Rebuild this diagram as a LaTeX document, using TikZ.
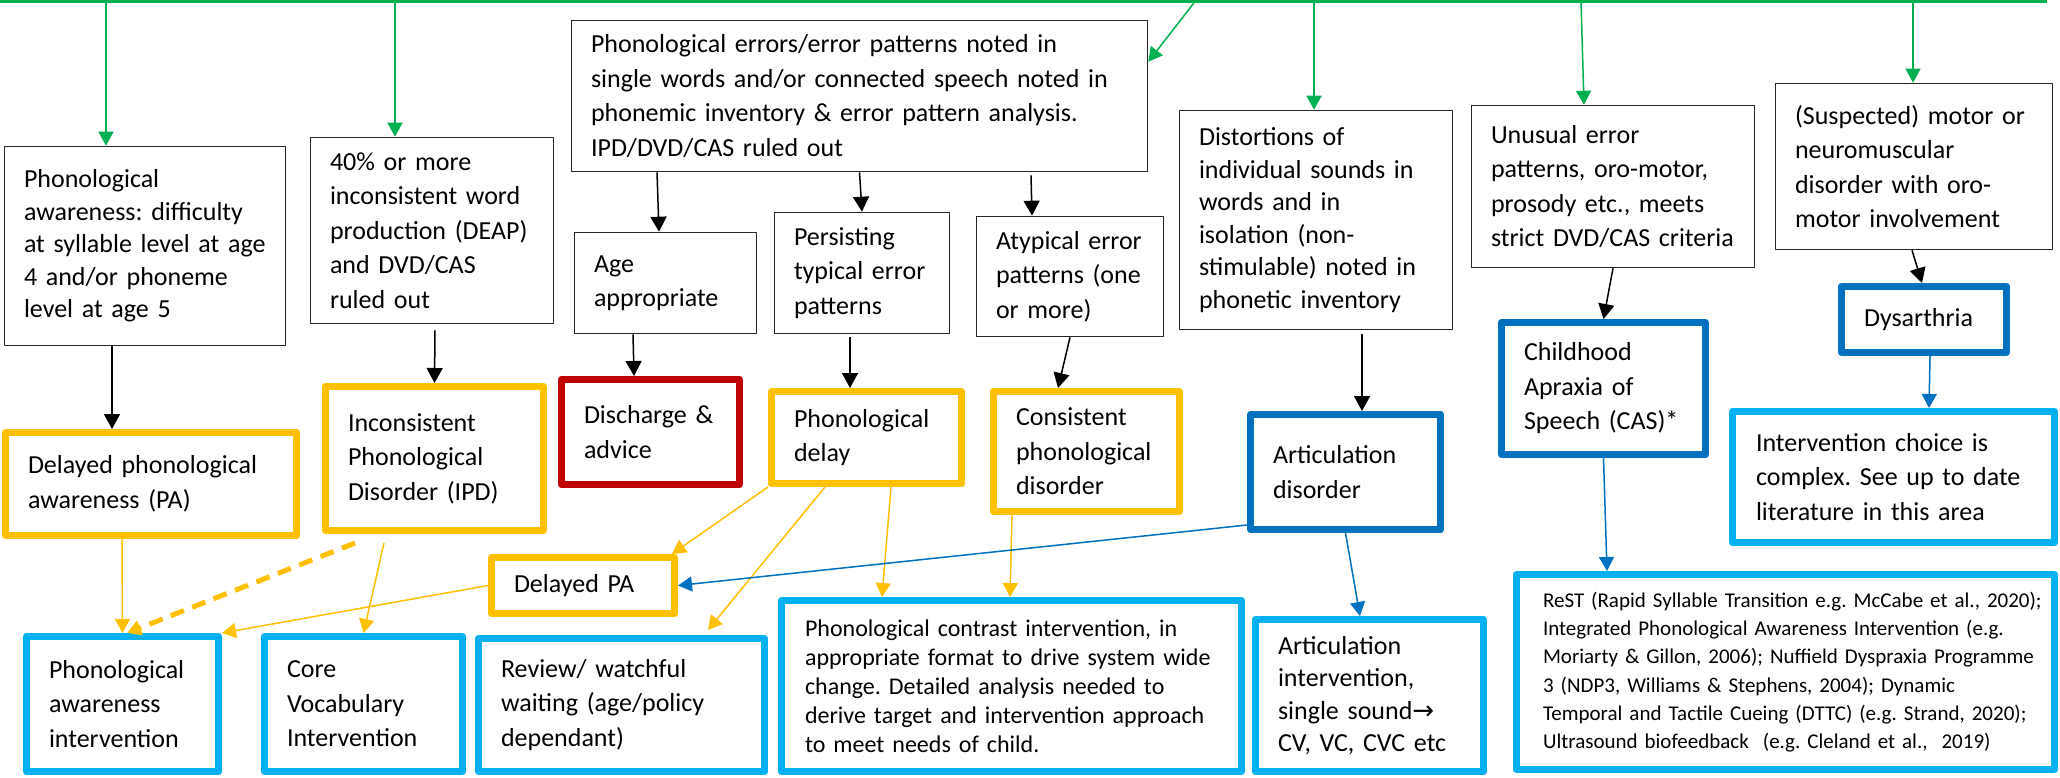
\documentclass[tikz,border=0pt]{standalone}
\usepackage{fontspec}
\setmainfont{Carlito}
\newfontfamily\arrowglyph{DejaVu Sans}
\usetikzlibrary{arrows.meta}
\definecolor{flowgreen}{HTML}{00B050}
\definecolor{flowamber}{HTML}{FFC000}
\definecolor{flowred}{HTML}{C00000}
\definecolor{flowblue}{HTML}{0070C0}
\definecolor{flowcyan}{HTML}{00B0F0}
\newcommand{\bodysize}{\fontsize{26}{34.5}\selectfont}
\newcommand{\tightsize}{\fontsize{26}{32.5}\selectfont}
\newcommand{\contrastsize}{\fontsize{24}{29}\selectfont}
\newcommand{\refsize}{\fontsize{21}{28.3}\selectfont}
\frenchspacing

\begin{document}
\begin{tikzpicture}[x=1pt, y=-1pt]
  \tikzstyle{box} = [align=left, fill=white, inner sep=2pt, font=\bodysize, line join=round];
  \tikzstyle{plain_box} = [box, draw=black!85, line width=1.6pt];
  \tikzstyle{amber_box} = [box, draw=flowamber, line width=7pt];
  \tikzstyle{red_box}   = [box, draw=flowred, line width=7pt];
  \tikzstyle{blue_box}  = [box, draw=flowblue, line width=7pt];
  \tikzstyle{cyan_box}  = [box, draw=flowcyan, line width=7pt];
  \tikzstyle{link}       = [line width=1.5pt, -{Triangle[length=14pt, width=15pt]}];
  \tikzstyle{green_link} = [link, color=flowgreen];
  \tikzstyle{black_link} = [link, color=black, -{Triangle[length=15pt, width=16pt]}];
  \tikzstyle{amber_link} = [link, color=flowamber];
  \tikzstyle{amber_dash} = [link, color=flowamber, line width=5pt, dash pattern=on 14pt off 9pt];
  \tikzstyle{blue_link}  = [link, color=flowblue];

  \path[use as bounding box, fill=white] (0, 0) rectangle (2060, 777);

  \node[plain_box, font=\tightsize, minimum width=281, minimum height=199, text width=242] (awaretest) at (145, 246)
    {Phonological\\awareness: difficulty\\at syllable level at age\\4 and/or phoneme\\level at age 5};
  \node[plain_box, minimum width=243, minimum height=186, text width=204] (inconstest) at (432, 230.5)
    {40\% or more\\inconsistent word\\production (DEAP)\\and DVD/CAS\\ruled out};
  \node[plain_box, minimum width=576, minimum height=151, text width=537] (errpat) at (859.5, 96)
    {Phonological errors/error patterns noted in\\single words and/or connected speech noted in\\phonemic inventory \& error pattern analysis.\\IPD/DVD/CAS ruled out};
  \node[plain_box, minimum width=182, minimum height=101, text width=143] (ageapp) at (665.5, 283)
    {Age\\appropriate};
  \node[plain_box, minimum width=175, minimum height=121, text width=136] (persist) at (862, 273)
    {Persisting\\typical error\\patterns};
  \node[plain_box, minimum width=187, minimum height=120, text width=148] (atypical) at (1070, 276.5)
    {Atypical error\\patterns (one\\or more)};
  \node[plain_box, font=\tightsize, minimum width=273, minimum height=219, text width=234] (distort) at (1316, 220)
    {Distortions of\\individual sounds in\\words and in\\isolation (non-\\stimulable) noted in\\phonetic inventory};
  \node[plain_box, minimum width=283, minimum height=162, text width=244] (unusual) at (1613, 186.5)
    {Unusual error\\patterns, oro-motor,\\prosody etc., meets\\strict DVD/CAS criteria};
  \node[plain_box, minimum width=277, minimum height=166, text width=238] (suspect) at (1914, 166.5)
    {(Suspected) motor or\\neuromuscular\\disorder with oro-\\motor involvement};

  \node[amber_box, minimum width=291, minimum height=103, text width=246] (delpa) at (151, 484)
    {Delayed phonological\\awareness (PA)};
  \node[amber_box, minimum width=218, minimum height=144, text width=173] (ipd) at (434.5, 458.5)
    {Inconsistent\\Phonological\\Disorder (IPD)};
  \node[red_box, minimum width=178, minimum height=105, text width=133] (discharge) at (650.5, 432)
    {Discharge \&\\advice};
  \node[amber_box, minimum width=190, minimum height=92, text width=145] (phondelay) at (866.5, 437.5)
    {Phonological\\delay};
  \node[amber_box, minimum width=186, minimum height=120, text width=141] (consist) at (1086.5, 451.5)
    {Consistent\\phonological\\disorder};
  \node[amber_box, minimum width=183, minimum height=56, text width=138] (delpasmall) at (583, 585.5)
    {Delayed PA};
  \node[blue_box, minimum width=190, minimum height=115, text width=145] (artdis) at (1345.5, 472)
    {Articulation\\disorder\\[-16pt]};
  \node[blue_box, minimum width=204, minimum height=132, text width=159] (cas) at (1603.5, 388.5)
    {Childhood\\Apraxia of\\Speech (CAS)*};
  \node[blue_box, minimum width=165, minimum height=66, text width=120] (dysarthria) at (1924, 319.5)
    {Dysarthria};

  \node[cyan_box, minimum width=192, minimum height=135, text width=147] (paint) at (122.5, 704)
    {Phonological\\awareness\\intervention};
  \node[cyan_box, minimum width=198, minimum height=135, text width=153] (corevocab) at (363.5, 704)
    {Core\\Vocabulary\\Intervention};
  \node[cyan_box, minimum width=286, minimum height=133, text width=241] (review) at (621.5, 705)
    {Review/ watchful\\waiting (age/policy\\dependant)};
  \node[cyan_box, font=\contrastsize, minimum width=460, minimum height=171, text width=413] (contrast) at (1011.5, 686)
    {\mbox{Phonological contrast intervention, in}\\\mbox{appropriate format to drive system wide}\\\mbox{change. Detailed analysis needed to}\\\mbox{derive target and intervention approach}\\\mbox{to meet needs of child.}};
  \node[cyan_box, font=\tightsize, minimum width=228, minimum height=152, text width=183] (artint) at (1369.5, 695.5)
    {Articulation\\intervention,\\single sound{\arrowglyph →}\\CV, VC, CVC etc};
  \node[cyan_box, font=\refsize, minimum width=538, minimum height=195, text width=485] (rest) at (1785.5, 672)
    {\mbox{ReST (Rapid Syllable Transition e.g. McCabe et al., 2020);}\\\mbox{Integrated Phonological Awareness Intervention (e.g.}\\\mbox{Moriarty \& Gillon, 2006); Nuffield Dyspraxia Programme}\\\mbox{3 (NDP3, Williams \& Stephens, 2004); Dynamic}\\\mbox{Temporal and Tactile Cueing (DTTC) (e.g. Strand, 2020);}\\\mbox{Ultrasound biofeedback~ (e.g. Cleland et al.,~ 2019)}};
  \node[cyan_box, minimum width=322, minimum height=131, text width=275] (ic) at (1893.5, 477)
    {Intervention choice is\\complex. See up to date\\literature in this area};

  \coordinate (busstart)   at (0, 1.5);
  \coordinate (busend)     at (2047, 1.5);
  \coordinate (tapaware)   at (106, 1.5);
  \coordinate (tapincons)  at (395, 1.5);
  \coordinate (taperr)     at (1195, 1.5);
  \coordinate (tapdistort) at (1314, 1.5);
  \coordinate (tapunusual) at (1581, 1.5);
  \coordinate (tapsuspect) at (1913, 1.5);

  \draw[flowgreen, line width=3pt] (busstart) -- (busend);
  \draw[green_link] (tapaware)   -- (tapaware |- awaretest.north);
  \draw[green_link] (tapincons)  -- (tapincons |- inconstest.north);
  \draw[green_link] (taperr)     -- ([yshift=-42pt]errpat.north east);
  \draw[green_link] (tapdistort) -- (tapdistort |- distort.north);
  \draw[green_link] (tapunusual) -- ([xshift=-29pt]unusual.north);
  \draw[green_link] (tapsuspect) -- (tapsuspect |- suspect.north);

  \draw[black_link] ([xshift=-33pt]awaretest.south) -- ([xshift=-39pt]delpa.north);
  \draw[black_link] ([xshift=3pt, yshift=-6pt]inconstest.south) -- (ipd.north);
  \draw[black_link] ([xshift=-202.5pt]errpat.south) -- ([xshift=-6.5pt]ageapp.north);
  \draw[black_link] (errpat.south) -- (persist.north);
  \draw[black_link] ([xshift=171.5pt, yshift=-3pt]errpat.south) -- ([xshift=-38pt]atypical.north);
  \draw[black_link] ([xshift=-32.5pt]ageapp.south) -- ([xshift=-16.5pt]discharge.north);
  \draw[black_link] ([xshift=-12pt, yshift=-3pt]persist.south) -- ([xshift=-16.5pt]phondelay.north);
  \draw[black_link] (atypical.south) -- ([xshift=-28.5pt]consist.north);
  \draw[black_link] ([xshift=46pt, yshift=-4pt]distort.south) -- ([xshift=16.5pt]artdis.north);
  \draw[black_link] (unusual.south) -- (cas.north);
  \draw[black_link] ([xshift=-2pt]suspect.south) -- ([xshift=-2pt]dysarthria.north);

  \draw[amber_link] ([xshift=-29pt]delpa.south) -- (paint.north);
  \draw[amber_dash] ([xshift=-79.5pt, yshift=-9pt]ipd.south) -- ([xshift=4.5pt]paint.north);
  \draw[amber_link] ([xshift=-50.5pt, yshift=-9pt]ipd.south) -- (corevocab.north);
  \draw[amber_link] (delpasmall.west) -- (paint.north east);
  \draw[amber_link] (phondelay.south west) -- ([xshift=-6pt]delpasmall.north east);
  \draw[amber_link] ([xshift=-41.5pt]phondelay.south) -- ([xshift=86.5pt, yshift=5pt]review.north);
  \draw[amber_link] ([xshift=24.5pt]phondelay.south) -- ([xshift=-129.5pt]contrast.north);
  \draw[amber_link] ([xshift=-74.5pt]consist.south) -- ([xshift=-1.5pt]contrast.north);

  \draw[blue_link] ([yshift=-53pt]artdis.west) -- (delpasmall.east);
  \draw[blue_link] (artdis.south) -- ([xshift=-9.5pt]artint.north);
  \draw[blue_link] (cas.south) -- ([xshift=-178.5pt]rest.north);
  \draw[blue_link] ([xshift=6pt]dysarthria.south) -- ([xshift=35.5pt]ic.north);
\end{tikzpicture}
\end{document}
